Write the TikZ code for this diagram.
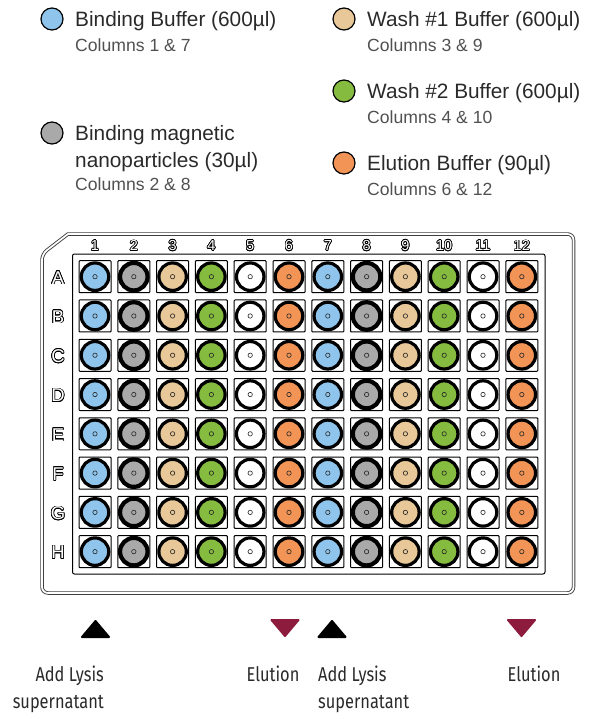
\documentclass[tikz,border=0pt]{standalone}
\usepackage{fontspec}
\usepackage{xcolor}
\usepackage{contour}
\setmainfont{Liberation Sans}
\newfontfamily\narrowfont[FakeStretch=0.82]{Fira Sans}
\contourlength{0.7pt}
\definecolor{bufferblue}{HTML}{8FC5EC}
\definecolor{beadgrey}{HTML}{A9A9A9}
\definecolor{washtan}{HTML}{E8C798}
\definecolor{washgreen}{HTML}{85BC3F}
\definecolor{elutionorange}{HTML}{F29455}
\definecolor{elutionred}{HTML}{8C1B3E}
\definecolor{maintext}{HTML}{2A2A2A}
\definecolor{subtext}{HTML}{505050}
\tikzset{
    plate-outer/.style = {draw=black!75, double=white, line width=0.9pt, double distance=1.7pt, rounded corners=6pt},
    plate-inner/.style = {draw=black, line width=1pt, rounded corners=2pt},
    well-box/.style = {draw=black, fill=white, line width=1pt, rectangle, rounded corners=0.8pt, minimum size=32pt, inner sep=0pt},
    well-ring/.style = {draw=black, circle, minimum size=27.5pt, inner sep=0pt},
    well-dot/.style = {draw=black!85, fill=none, circle, line width=0.6pt, minimum size=4.4pt, inner sep=0pt},
    key-dot/.style = {draw=black, circle, line width=1.2pt, minimum size=22pt, inner sep=0pt},
    key-title/.style = {anchor=base west, inner sep=0pt, text=maintext, font=\fontsize{20.8pt}{23pt}\selectfont},
    key-note/.style = {anchor=base west, inner sep=0pt, text=subtext, font=\fontsize{17.6pt}{20pt}\selectfont},
    plate-mark/.style = {inner sep=0pt, text=white, font=\fontsize{14.5pt}{16pt}\selectfont},
    row-mark/.style = {inner sep=0pt, text=white, font=\fontsize{18.5pt}{20pt}\selectfont},
    step-label/.style = {inner sep=0pt, text=maintext, font=\narrowfont\fontsize{20pt}{27pt}\selectfont},
    add-tip/.style = {draw=black, fill=black, line width=2pt, line join=round},
    out-tip/.style = {draw=elutionred, fill=elutionred, line width=2pt, line join=round},
}
\begin{document}
\begin{tikzpicture}[x=1pt,y=-1pt]
\useasboundingbox (0,0) rectangle (613,719);

% legend
\node [key-dot, fill=bufferblue] (key-binding) at (52,19) {};
\node [key-title] (binding-title) at (75,27) {Binding Buffer (600µl)};
\node [key-note] (binding-note) at (75,52) {Columns 1 \& 7};
\node [key-dot, fill=beadgrey] (key-beads) at (52,133) {};
\node [key-title] (beads-title) at (75,141) {Binding magnetic};
\node [key-title] (beads-title2) at (75,168) {nanoparticles (30µl)};
\node [key-note] (beads-note) at (75,191) {Columns 2 \& 8};
\node [key-dot, fill=washtan] (key-washone) at (344,19) {};
\node [key-title] (washone-title) at (367,27) {Wash \#1 Buffer (600µl)};
\node [key-note] (washone-note) at (367,52) {Columns 3 \& 9};
\node [key-dot, fill=washgreen] (key-washtwo) at (344,91) {};
\node [key-title] (washtwo-title) at (367,99) {Wash \#2 Buffer (600µl)};
\node [key-note] (washtwo-note) at (367,124) {Columns 4 \& 10};
\node [key-dot, fill=elutionorange] (key-elution) at (344,163) {};
\node [key-title] (elution-title) at (367,171) {Elution Buffer (90µl)};
\node [key-note] (elution-note) at (367,196) {Columns 6 \& 12};

% plate
\draw [plate-outer] (42,254) [sharp corners] -- (68,234) [rounded corners=6pt] -- (573.5,234) -- (573.5,593) -- (42,593) -- cycle;
\draw [plate-inner] (72.5,254) rectangle (545,574);

\foreach \col/\tint/\rim in {1/bufferblue/3.2,2/beadgrey/4.2,3/washtan/3.2,4/washgreen/3.2,5/white/3.2,6/elutionorange/3.2,7/bufferblue/3.2,8/beadgrey/4.2,9/washtan/3.2,10/washgreen/3.2,11/white/3.2,12/elutionorange/3.2}{
    \pgfmathsetmacro{\xpos}{95+(\col-1)*38.8}
    \node [plate-mark] (col-\col) at (\xpos,246) {\contour{black}{\col}};
    \foreach \row/\name in {1/A,2/B,3/C,4/D,5/E,6/F,7/G,8/H}{
        \pgfmathsetmacro{\ypos}{276.7+(\row-1)*39.28}
        \node [well-box] (box-\name\col) at (\xpos,\ypos) {};
        \node [well-ring, line width=\rim pt, fill=\tint] (ring-\name\col) at (\xpos,\ypos) {};
        \node [well-dot] (dot-\name\col) at (\xpos,\ypos) {};
    }
}
\foreach \row/\name in {1/A,2/B,3/C,4/D,5/E,6/F,7/G,8/H}{
    \pgfmathsetmacro{\ypos}{278+(\row-1)*39.28}
    \node [row-mark] (row-\name) at (58,\ypos) {\contour{black}{\name}};
}

% arrows and steps
\draw [add-tip] (95.5,621) -- (109,637) -- (82,637) -- cycle;
\draw [add-tip] (332,621) -- (345.5,637) -- (318.5,637) -- cycle;
\draw [out-tip] (285,636) -- (298.5,620) -- (271.5,620) -- cycle;
\draw [out-tip] (521.5,636) -- (535,620) -- (508,620) -- cycle;

\node [step-label, anchor=base east] (lysis-one) at (104,681) {Add Lysis};
\node [step-label, anchor=base east] (lysis-one2) at (104,708) {supernatant};
\node [step-label, anchor=base] (elution-one) at (273,681) {Elution};
\node [step-label, anchor=base west] (lysis-two) at (318,681) {Add Lysis};
\node [step-label, anchor=base west] (lysis-two2) at (318,708) {supernatant};
\node [step-label, anchor=base] (elution-two) at (534,681) {Elution};
\end{tikzpicture}
\end{document}
